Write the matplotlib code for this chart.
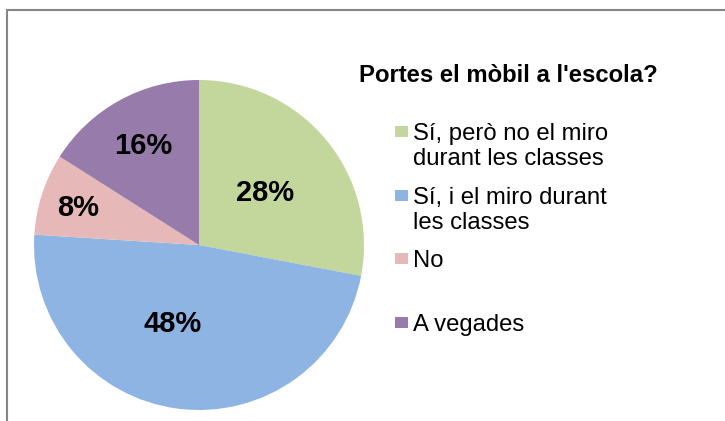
import matplotlib.pyplot as plt
import numpy as np
from matplotlib.patches import Rectangle

title = "Portes el mòbil a l'escola?"
labels = ["Sí, però no el miro\ndurant les classes",
          "Sí, i el miro durant\nles classes",
          "No",
          "A vegades"]
values = [28, 48, 8, 16]
colors = ['#C3D69B', '#8EB4E3', '#E6B9B8', '#977BAB']

# where excel put the percentage labels (fraction of radius, angle tweak)
label_r = [0.52, 0.49, 0.77, 0.70]
label_shift = [0, -12, 0, 0]

W, H = 725, 421
fig = plt.figure(figsize=(W / 100, H / 100), dpi=100)
plt.rcParams['font.family'] = ['Liberation Sans', 'DejaVu Sans']

# outer chart frame (runs off the right and bottom edges)
fig.patches.append(Rectangle((7 / W, -0.1), 1.2, (H - 10) / H + 0.1,
                             transform=fig.transFigure, fill=False,
                             edgecolor='#868686', linewidth=1.5))

cx, cy, R = 199, 245, 165
ax = fig.add_axes([(cx - R) / W, (H - cy - R) / H, 2 * R / W, 2 * R / H])
wedges, _ = ax.pie(values, colors=colors, startangle=90, counterclock=False,
                   radius=1, wedgeprops=dict(linewidth=0))
ax.set_xlim(-1, 1)
ax.set_ylim(-1, 1)
ax.axis('off')

for w, v, r, s in zip(wedges, values, label_r, label_shift):
    ang = np.deg2rad((w.theta1 + w.theta2) / 2 + s)
    ax.annotate(f"{v}%", (r * np.cos(ang), r * np.sin(ang)),
                xytext=(0, -7.5), textcoords='offset points',
                ha='center', va='baseline', fontsize=21, fontweight='bold')

# title and legend, in pixels from the top
fig.text(359 / W, 1 - 82 / H, title, fontsize=17.2, fontweight='bold',
         ha='left', va='baseline')

y0, step = 131.5, 63.7
for i, (lab, c) in enumerate(zip(labels, colors)):
    yc = y0 + i * step
    fig.patches.append(Rectangle((395 / W, 1 - (yc + 5.5) / H), 12.5 / W, 11 / H,
                                 transform=fig.transFigure, facecolor=c,
                                 edgecolor='none'))
    for j, line in enumerate(lab.split('\n')):
        fig.text(413 / W, 1 - (yc + 8.5 + j * 25.3) / H, line, fontsize=17.2,
                 ha='left', va='baseline')

fig.savefig('out.png', dpi=100)
